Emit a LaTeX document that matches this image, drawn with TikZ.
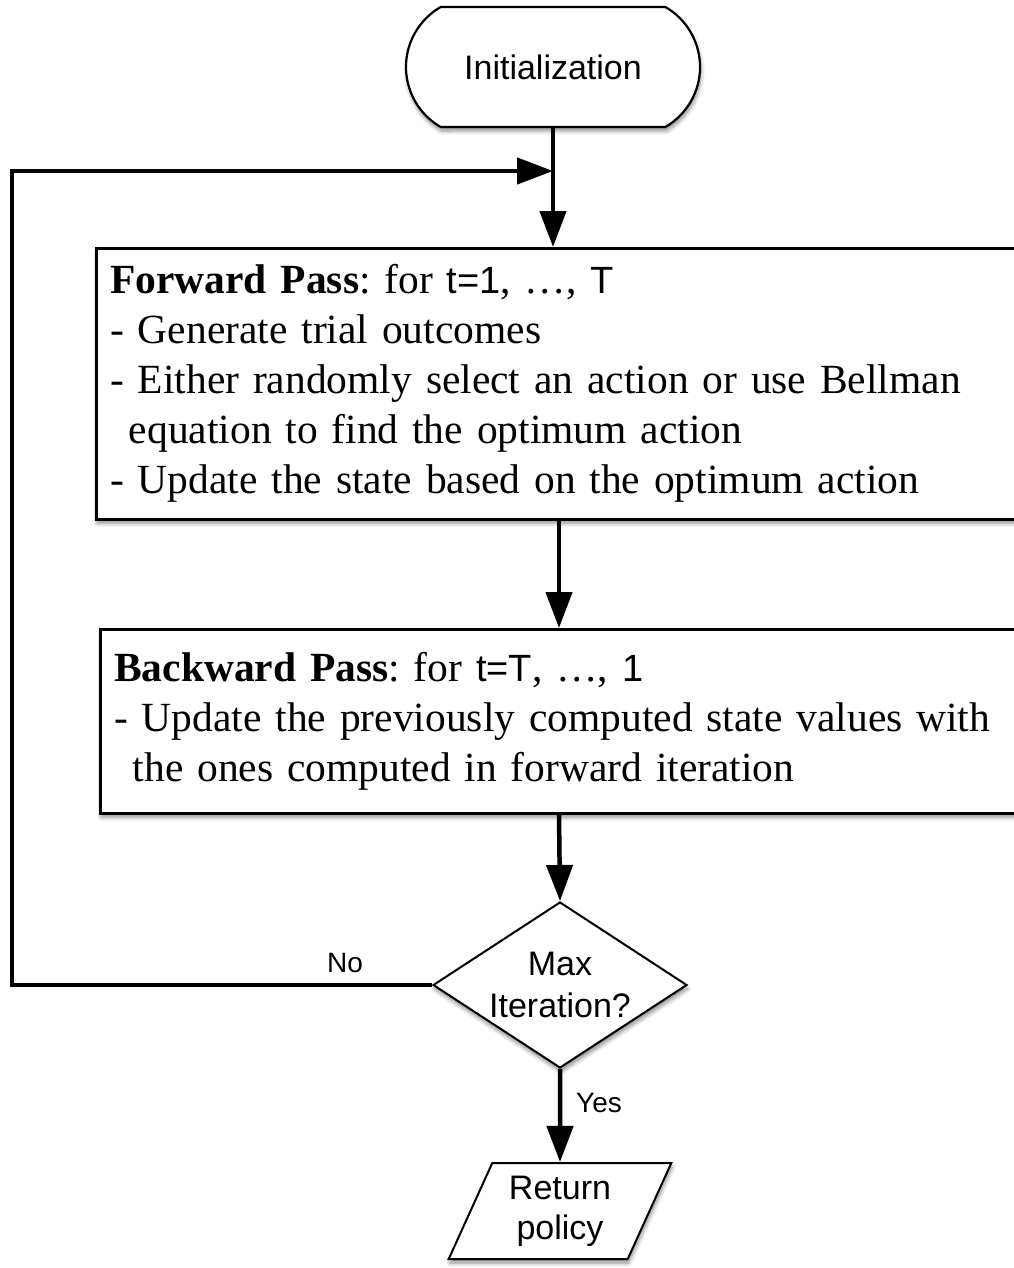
\documentclass[tikz,border=0pt]{standalone}
\usepackage{fontspec}
\setmainfont{Liberation Serif}
\newfontfamily\hv{Liberation Sans}
\usetikzlibrary{arrows.meta,shapes.geometric,shapes.misc,shadows.blur}
\frenchspacing
\newcommand{\sfin}[1]{{\hv\fontsize{38}{50}\selectfont #1}}
\begin{document}
\begin{tikzpicture}[x=1pt,y=-1pt,
  shd/.style={blur shadow={shadow xshift=1pt,shadow yshift=-4pt,shadow blur radius=4pt,shadow blur steps=6,shadow opacity=45}},
  term/.style={rounded rectangle, rounded rectangle arc length=120, draw, line width=2.2pt, fill=white,
    minimum width=294pt, minimum height=120pt, inner sep=0pt, font=\hv\fontsize{34}{40}\selectfont, shd},
  procbox/.style={rectangle, draw, line width=2.5pt, fill=white, align=left, inner xsep=14pt, inner ysep=0pt,
    font=\fontsize{41.5}{50}\selectfont, shd, anchor=north west},
  dec/.style={diamond, draw, line width=2pt, fill=white, aspect=1.53, minimum width=254pt, minimum height=166pt,
    inner sep=0pt, align=center, font=\hv\fontsize{34}{42}\selectfont, shd},
  io/.style={trapezium, trapezium left angle=65, trapezium right angle=115, trapezium stretches=true,
    draw, line width=2pt, fill=white, minimum width=223pt, minimum height=96pt, inner sep=0pt,
    align=center, font=\hv\fontsize{34}{40}\selectfont, shd},
  lbl/.style={font=\hv\fontsize{28}{32}\selectfont, inner sep=0pt},
  conn/.style={line width=4.5pt, -{Triangle[length=36pt,width=26pt]}}
]
\useasboundingbox (0,0) rectangle (1013,1268);

\node[term] (init) at (553,67) {Initialization};

\node[procbox, minimum width=935pt, minimum height=271pt, text width=907pt] (fwd) at (95,247)
  {\textbf{Forward Pass}: for \sfin{t=1}, …, \sfin{T}\\
   - Generate trial outcomes\\
   - Either randomly select an action or use Bellman\\
   \hspace*{0.45em}equation to find the optimum action\\
   - Update the state based on the optimum action};

\node[procbox, minimum width=931pt, minimum height=184pt, text width=903pt] (bwd) at (99,628)
  {\textbf{Backward Pass}: for \sfin{t=T}, …, \sfin{1}\\
   - Update the previously computed state values with\\
   \hspace*{0.45em}the ones computed in forward iteration};

\node[dec] (dec) at (560,985) {Max\\Iteration?};
\node[io] (ret) at (560,1211) {Return\\policy};

\node[lbl] (no) at (345,963) {No};
\node[lbl] (yes) at (599,1103) {Yes};

\coordinate (axis) at (559,0);
\coordinate (corner) at (12,171);

\draw[conn] (init.south) -- (init.south |- fwd.north);
\draw[conn] (axis |- fwd.south) -- (axis |- bwd.north);
\draw[conn] (axis |- bwd.south) -- (dec.north);
\draw[conn] (dec.south) -- (ret.north);
\draw[conn] (dec.west) -| (corner) -- (init.south |- corner);
\end{tikzpicture}
\end{document}
